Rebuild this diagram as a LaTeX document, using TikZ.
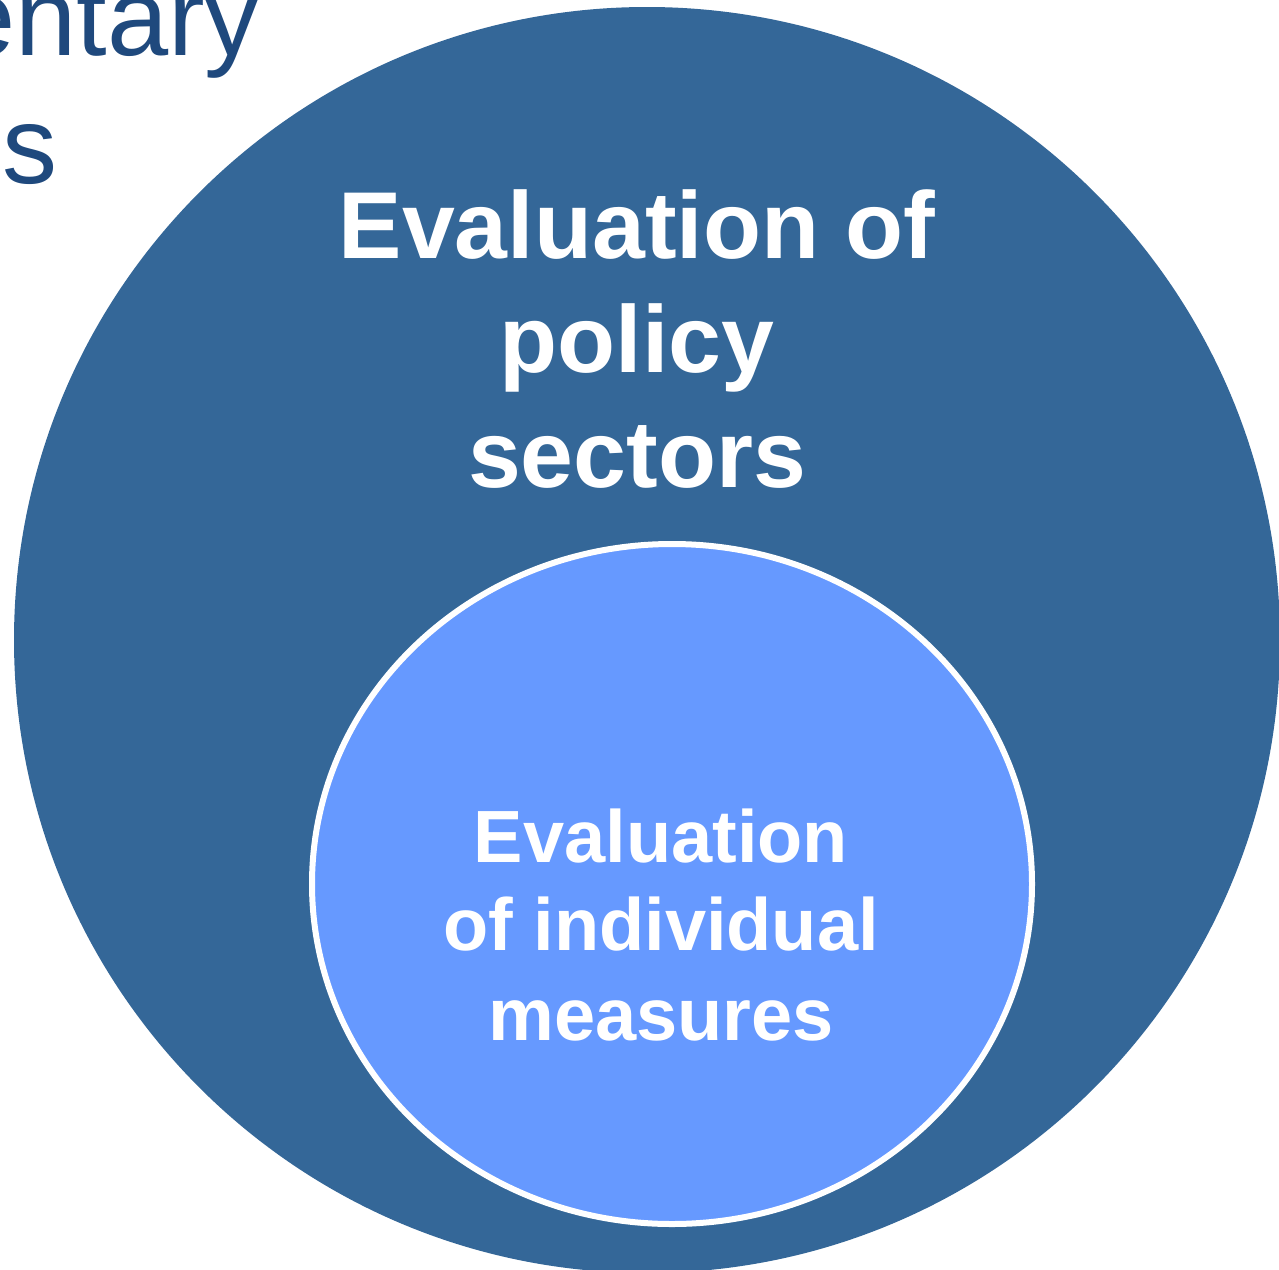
\documentclass[tikz,border=0pt]{standalone}
\usepackage{fontspec}
\setmainfont{Liberation Sans}
\definecolor{outerblue}{HTML}{346798}
\definecolor{innerblue}{HTML}{6699FF}
\definecolor{navytext}{HTML}{1F497D}
\begin{document}
\begin{tikzpicture}[x=1pt,y=-1pt,
  bigtxt/.style={text=white,font=\bfseries\fontsize{95}{114}\selectfont,inner sep=0,anchor=base},
  smalltxt/.style={text=white,font=\bfseries\fontsize{74}{89}\selectfont,inner sep=0,anchor=base},
  sidetxt/.style={text=navytext,font=\fontsize{110}{127}\selectfont,inner sep=0,anchor=base west}]
\useasboundingbox (0,0) rectangle (1279,1269);
\clip (0,0) rectangle (1279,1269);
\node[sidetxt] (t1) at (-46,55) {entary};
\node[sidetxt] (t2) at (2,183) {s};
\fill[outerblue] (647,640) circle (633);
\draw[white,line width=6,fill=innerblue] (672,884) ellipse [x radius=360, y radius=340];
\node[bigtxt] (a1) at (637,258) {Evaluation of};
\node[bigtxt] (a2) at (637,372) {policy};
\node[bigtxt] (a3) at (637,487) {sectors};
\node[smalltxt] (b1) at (661,862) {Evaluation};
\node[smalltxt] (b2) at (661,950) {of individual};
\node[smalltxt] (b3) at (661,1040) {measures};
\end{tikzpicture}
\end{document}
